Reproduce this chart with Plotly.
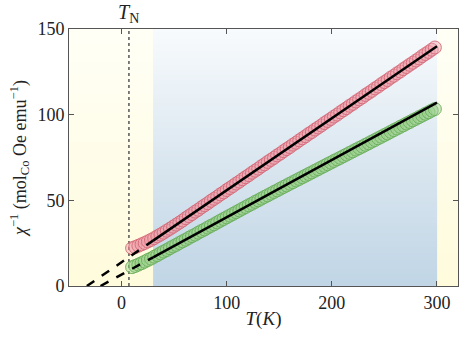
import numpy as np
import plotly.graph_objects as go

# Temperature grid of the measurement (K)
temperature = [
    10, 13, 16, 19, 22, 25, 28, 31, 34, 37, 40, 43, 46, 49, 52, 55, 58, 61, 64, 67,
    70, 73, 76, 79, 82, 85, 88, 91, 94, 97, 100, 103, 106, 109, 112, 115, 118, 121,
    124, 127, 130, 133, 136, 139, 142, 145, 148, 151, 154, 157, 160, 163, 166, 169,
    172, 175, 178, 181, 184, 187, 190, 193, 196, 199, 202, 205, 208, 211, 214, 217,
    220, 223, 226, 229, 232, 235, 238, 241, 244, 247, 250, 253, 256, 259, 262, 265,
    268, 271, 274, 277, 280, 283, 286, 289, 292, 295, 298,
]

# Inverse susceptibility, first sample (red)
chi_inv_red = [
    22.1, 22.7, 23.5, 24.3, 25.1, 26.0, 26.9, 27.9, 29.0, 30.0, 31.1, 32.3, 33.4, 34.6,
    35.8, 37.0, 38.2, 39.6, 40.8, 42.0, 43.4, 44.5, 45.9, 47.1, 48.3, 49.7, 50.9, 52.1,
    53.5, 54.6, 56.0, 57.2, 58.4, 59.8, 60.9, 62.3, 63.5, 64.7, 66.1, 67.3, 68.5, 69.9,
    71.0, 72.4, 73.6, 74.8, 76.2, 77.3, 78.7, 79.9, 81.1, 82.5, 83.6, 85.0, 86.2, 87.4,
    88.8, 89.9, 91.3, 92.5, 93.7, 95.1, 96.3, 97.5, 98.9, 100.0, 101.4, 102.6, 103.8,
    105.2, 106.3, 107.7, 108.9, 110.1, 111.5, 112.7, 113.9, 115.3, 116.4, 117.8, 119.0,
    120.2, 121.6, 122.7, 124.1, 125.2, 126.6, 127.8, 129.1, 130.3, 131.6, 132.8, 134.2,
    135.4, 136.6, 137.9, 139.2,
]

# Inverse susceptibility, second sample (green)
chi_inv_green = [
    11.0, 11.7, 12.5, 13.3, 14.2, 15.2, 16.0, 17.1, 18.0, 19.1, 20.1, 21.0, 22.1, 23.1,
    24.0, 25.1, 26.1, 27.0, 28.1, 29.1, 30.0, 31.1, 32.1, 33.0, 34.1, 35.1, 36.0, 37.1,
    38.1, 39.1, 40.1, 41.1, 42.1, 43.1, 44.1, 45.1, 46.1, 47.1, 48.0, 49.1, 50.0, 51.0,
    52.0, 52.9, 53.9, 54.9, 55.8, 56.8, 57.8, 58.7, 59.7, 60.6, 61.6, 62.5, 63.5, 64.4,
    65.4, 66.3, 67.3, 68.2, 69.2, 70.1, 71.1, 72.0, 73.0, 73.9, 74.8, 75.8, 76.7, 77.7,
    78.6, 79.6, 80.5, 81.4, 82.4, 83.3, 84.3, 85.2, 86.2, 87.1, 88.1, 89.0, 90.0, 91.0,
    91.9, 92.9, 93.8, 94.8, 95.7, 96.7, 97.6, 98.6, 99.5, 100.5, 101.4, 102.4, 103.3,
]

# Curie-Weiss fit parameters: chi^-1 = (T - theta) / C
theta_red, curie_red = -33.0, 2.379
theta_green, curie_green = -20.0, 2.99

fit_start, fit_end = 30.0, 300.0   # fitted temperature window
t_neel = 7.0
x_range = [-50, 320]
y_range = [0, 150]

serif = "Liberation Serif, DejaVu Serif, serif"
frame = "#555555"
ink = "#222222"


def curie_weiss(t, theta, c):
    return (np.asarray(t, dtype=float) - theta) / c


fig = go.Figure()

# Background: pale yellow outside the fit window, blue gradient inside it
y_edges = np.linspace(y_range[0], y_range[1], 151)
y_mid = 0.5 * (y_edges[:-1] + y_edges[1:])
fig.add_trace(go.Heatmap(
    x=[x_range[0], x_range[1]], y=y_edges, z=[[v] for v in y_mid],
    colorscale=[[0, "#fffbdc"], [1, "#fffff6"]], showscale=False,
    hoverinfo="skip", zmin=y_range[0], zmax=y_range[1],
))
fig.add_trace(go.Heatmap(
    x=[fit_start, fit_end], y=y_edges, z=[[v] for v in y_mid],
    colorscale=[[0, "#c0d5e5"], [0.5, "#dbe7f0"], [1, "#f8fbfd"]], showscale=False,
    hoverinfo="skip", zmin=y_range[0], zmax=y_range[1],
))

# Neel temperature marker
fig.add_trace(go.Scatter(
    x=[t_neel, t_neel], y=y_range, mode="lines",
    line=dict(color="#555555", width=1.5, dash="dot"), hoverinfo="skip",
))

# Measured data
fig.add_trace(go.Scatter(
    x=temperature, y=chi_inv_red, mode="markers",
    marker=dict(size=13, color="rgba(238,160,170,0.45)",
                line=dict(color="rgba(212,100,115,0.85)", width=1)),
))
fig.add_trace(go.Scatter(
    x=temperature, y=chi_inv_green, mode="markers",
    marker=dict(size=13, color="rgba(155,208,140,0.45)",
                line=dict(color="rgba(100,172,85,0.85)", width=1)),
))

# Fits: solid in the fit window, dashed extrapolation down to zero
for theta, c in [(theta_red, curie_red), (theta_green, curie_green)]:
    t_solid = [fit_start, fit_end]
    fig.add_trace(go.Scatter(
        x=t_solid, y=curie_weiss(t_solid, theta, c), mode="lines",
        line=dict(color="black", width=2.5), hoverinfo="skip",
    ))
    t_dash = [theta, fit_start]
    fig.add_trace(go.Scatter(
        x=t_dash, y=curie_weiss(t_dash, theta, c), mode="lines",
        line=dict(color="black", width=2.5, dash="dash"), hoverinfo="skip",
    ))

axis_common = dict(
    showline=True, linecolor=frame, linewidth=1, mirror="ticks",
    ticks="inside", ticklen=5, tickcolor=frame, tickwidth=1,
    showgrid=False, zeroline=False,
    tickfont=dict(family=serif, size=18, color=ink),
)

fig.update_layout(
    width=474, height=338,
    margin=dict(l=69, r=16, t=29, b=50),
    paper_bgcolor="white", plot_bgcolor="white",
    showlegend=False,
    xaxis=dict(
        range=x_range, tickvals=[0, 100, 200, 300], **axis_common,
        title=dict(text="<i>T</i>(<i>K</i>)", font=dict(family=serif, size=19, color=ink),
                   standoff=0),
    ),
    yaxis=dict(
        range=y_range, tickvals=[0, 50, 100, 150], **axis_common,
        title=dict(text="<i>χ</i><sup>−1</sup> (mol<sub>Co</sub> Oe emu<sup>−1</sup>)",
                   font=dict(family=serif, size=18, color=ink), standoff=6),
    ),
    annotations=[dict(
        x=t_neel, y=1, xref="x", yref="paper", yanchor="bottom", yshift=1,
        text="<i>T</i><sub>N</sub>", showarrow=False,
        font=dict(family=serif, size=20, color=ink),
    )],
)

fig.write_html("out.html")
